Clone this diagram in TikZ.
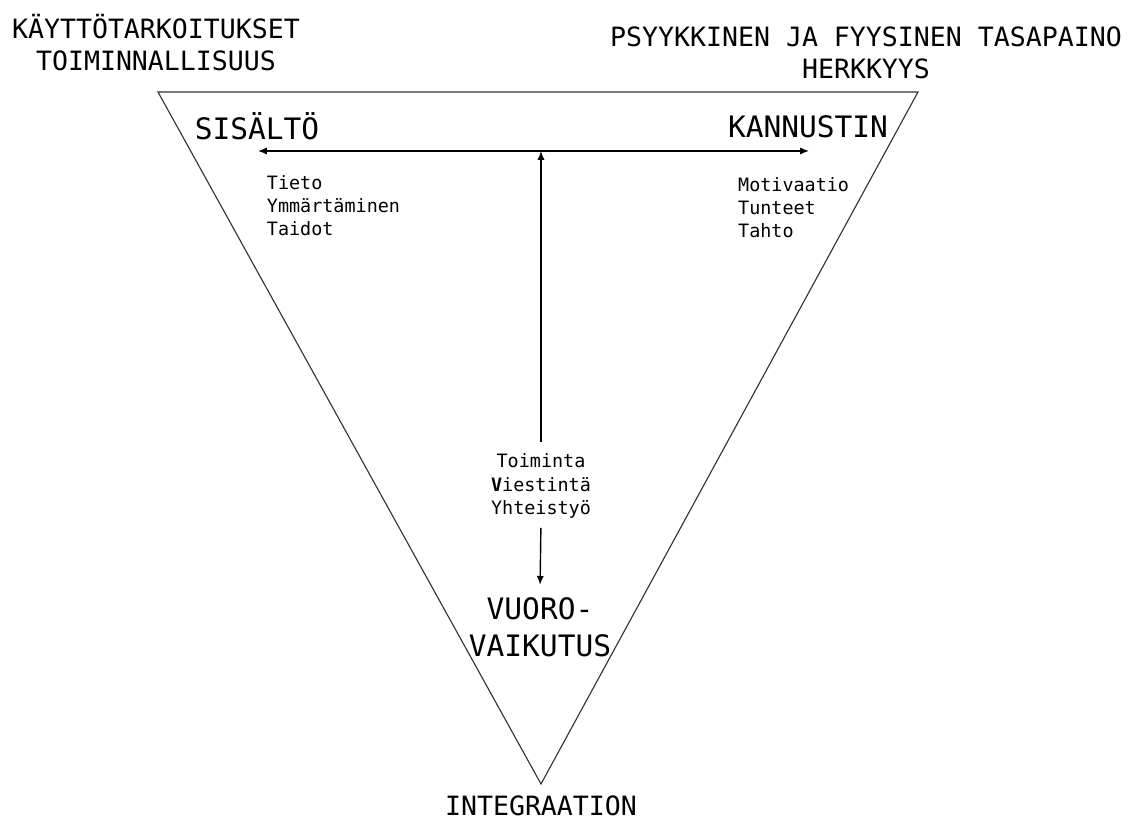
\documentclass[tikz,border=0pt]{standalone}
\usepackage{fontspec}
\setmainfont{DejaVu Sans Mono}
\usetikzlibrary{positioning, arrows.meta}

\begin{document}
\begin{tikzpicture}[
          biglabel/.style={font=\fontsize{18.9}{22.8}\selectfont, align=center},
          corner/.style={font=\fontsize{21}{26.3}\selectfont, align=center},
          itemlist/.style={font=\fontsize{13.1}{16.4}\selectfont, align=left, anchor=west},
          midlist/.style={font=\fontsize{13.1}{17}\selectfont, align=center, inner sep=0pt},
          edge/.style={draw=black!80, line width=0.8pt},
          flow/.style={draw=black, line width=1pt, -{Latex[length=2.2mm,width=1.8mm]}}
        ]
        \useasboundingbox (0,0) rectangle (28.4,20.625);

        % Triangle
        \coordinate (tl) at (3.95,18.325);
        \coordinate (tr) at (22.95,18.325);
        \coordinate (apex) at (13.525,1.025);
        \draw[edge] (tl) -- (tr) -- (apex) -- cycle;

        % Outer labels
        \node[biglabel] (purpose) at (3.9,19.55) {KÄYTTÖTARKOITUKSET\\TOIMINNALLISUUS};
        \node[biglabel] (balance) at (21.65,19.3) {PSYYKKINEN JA FYYSINEN TASAPAINO\\HERKKYYS};
        \node[biglabel, inner sep=0pt] (integ) at (13.525,0.48) {INTEGRAATION};

        % Corners
        \node[corner] (content) at (6.425,17.475) {SISÄLTÖ};
        \node[corner] (drive) at (20.2,17.45) {KANNUSTIN};
        \node[corner] (inter) at (13.5,4.94) {VUORO-\\VAIKUTUS};

        % Lists
        \node[itemlist] (know) at (6.55,15.475) {Tieto\\Ymmärtäminen\\Taidot};
        \node[itemlist] (motiv) at (18.33,15.425) {Motivaatio\\Tunteet\\Tahto};
        \node[midlist] (act) at (13.525,8.475) {Toiminta\\\textbf{V}iestintä\\Yhteistyö};

        % Arrows
        \coordinate (hub) at (13.525,16.85);
        \coordinate (ltip) at (6.45,16.85);
        \coordinate (rtip) at (20.225,16.85);
        \draw[flow] (hub) -- (ltip);
        \draw[flow] (hub) -- (rtip);
        \draw[flow, shorten <=0.27cm] (act.north) -- (hub);
        \draw[flow, shorten <=0.22cm, shorten >=0.2cm] (act.south) -- (inter.north);
      \end{tikzpicture}
\end{document}
